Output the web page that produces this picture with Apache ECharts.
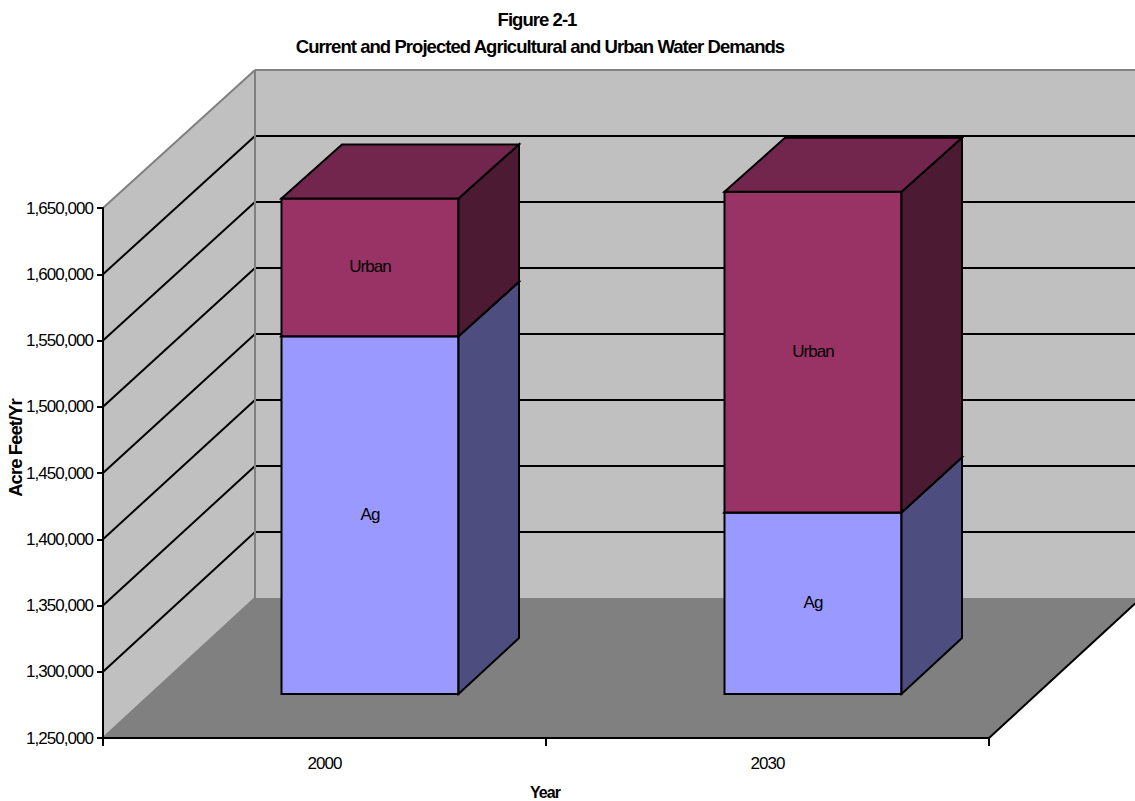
<!DOCTYPE html>
<html>
<head>
<meta charset="utf-8">
<style>
html,body{margin:0;padding:0;background:#fff}
#chart{width:1135px;height:801px}
#chart text{letter-spacing:-0.95px}
</style>
<script src="https://cdn.jsdelivr.net/npm/echarts@6/dist/echarts.min.js"></script>
</head>
<body>
<div id="chart"></div>
<script>
const titleLines = ['Figure 2-1', 'Current and Projected Agricultural and Urban Water Demands'];
const years = ['2000', '2030'];
const agValues = [1520000, 1387000];
const urbanValues = [104000, 242000];
const gridValues = [1300000, 1350000, 1400000, 1450000, 1500000, 1550000, 1600000];
const axisMin = 1250000, axisMax = 1650000, axisStep = 50000;
const FONT = '"Liberation Sans", Arial, sans-serif';

// wall depth and bar placement (styling of the 3D projection)
const wallDx = 152;
const wallDy = y => 138 + 2 * (y - 208) / 530;
const barOff = [45.5, -44], barDepthX = 60.5, barW = 177;
const barDepthY = y => -54 - 2 * (y - 192) / 502;

function line(x1, y1, x2, y2, color, w) {
  return {type: 'line', shape: {x1, y1, x2, y2}, style: {stroke: color, lineWidth: w, fill: null}};
}
function poly(points, fill, stroke) {
  return {type: 'polygon', shape: {points}, style: {fill, stroke: stroke || null, lineWidth: stroke ? 2 : 0, lineJoin: 'miter'}};
}

function renderWalls(params, api) {
  const L = api.coord([0, axisMin])[0] - api.size([1, 0])[0] / 2;
  const R = L + 2 * api.size([1, 0])[0];
  const B = api.coord([0, axisMin])[1], T = api.coord([0, axisMax])[1];
  const bl = [L + wallDx, B - wallDy(B)], tl = [L + wallDx, T - wallDy(T)];
  const kids = [
    poly([[L, T], tl, bl, [L, B]], '#C0C0C0'),
    poly([tl, [R + wallDx, tl[1]], [R + wallDx, bl[1]], bl], '#C0C0C0'),
    poly([[L, B], bl, [R + wallDx, bl[1]], [R, B]], '#808080')
  ];
  gridValues.forEach(v => {
    const y = api.coord([0, v])[1], by = y - wallDy(y);
    kids.push(line(L, y, L + wallDx, by, '#000', 2));
    kids.push(line(L + wallDx, by, R + wallDx, by, '#000', 2));
  });
  kids.push(line(L, T, tl[0], tl[1], '#808080', 2));
  kids.push(line(tl[0], tl[1], R + wallDx, tl[1], '#808080', 2));
  kids.push(line(tl[0], tl[1], bl[0], bl[1], '#808080', 2));
  kids.push(line(L, B, bl[0], bl[1], '#808080', 2));
  kids.push(line(R, B, R + wallDx, bl[1], '#000', 2));
  return {type: 'group', silent: true, children: kids};
}

function barRenderer(name, front, side, top) {
  return function (params, api) {
    const cat = api.value(0);
    const p0 = api.coord([cat, api.value(1)]), p1 = api.coord([cat, api.value(2)]);
    const xl = p0[0] + barOff[0] - barW / 2, xr = xl + barW;
    const yb = p0[1] + barOff[1], yt = p1[1] + barOff[1];
    const dx = barDepthX, dyT = barDepthY(yt), dyB = barDepthY(yb);
    return {type: 'group', children: [
      poly([[xl, yt], [xr, yt], [xr, yb], [xl, yb]], front, '#000'),
      poly([[xr, yt], [xr + dx, yt + dyT], [xr + dx, yb + dyB], [xr, yb]], side, '#000'),
      poly([[xl, yt], [xl + dx, yt + dyT], [xr + dx, yt + dyT], [xr, yt]], top, '#000'),
      {type: 'text', x: (xl + xr) / 2, y: (yt + yb) / 2 - 1,
       style: {text: name, fill: '#000', font: '17px ' + FONT, textAlign: 'center', textVerticalAlign: 'middle'}}
    ]};
  };
}

const titleStyle = {fontFamily: FONT, fontSize: 18.5, fontWeight: 'bold', color: '#000', lineHeight: 27};
const chart = echarts.init(document.getElementById('chart'), null, {renderer: 'svg'});
chart.setOption({
  animation: false,
  backgroundColor: '#fff',
  title: [
    {text: titleLines[0], left: 532, top: 1, textAlign: 'center', textStyle: titleStyle},
    {text: titleLines[1], left: 535, top: 28, textAlign: 'center', textStyle: titleStyle}
  ],
  grid: {left: 103, right: 146, top: 208, bottom: 63, outerBoundsMode: 'none'},
  xAxis: {
    type: 'category', data: years, z: 10,
    name: 'Year', nameLocation: 'middle', nameGap: 46, nameMoveOverlap: false,
    nameTextStyle: {fontFamily: FONT, fontSize: 16, fontWeight: 'bold', color: '#000', padding: [0, 2, 0, 0]},
    axisLine: {lineStyle: {color: '#000', width: 2}},
    axisTick: {show: true, length: 8, lineStyle: {color: '#000', width: 2}},
    axisLabel: {margin: 17, fontFamily: FONT, fontSize: 17, color: '#000'},
    splitLine: {show: false}
  },
  yAxis: {
    type: 'value', min: axisMin, max: axisMax, interval: axisStep, z: 10,
    name: 'Acre Feet/Yr', nameLocation: 'middle', nameGap: 78, nameMoveOverlap: false,
    nameTextStyle: {fontFamily: FONT, fontSize: 18.5, fontWeight: 'bold', color: '#000', padding: [0, 0, 0, 50]},
    axisLine: {show: true, lineStyle: {color: '#000', width: 2}},
    axisTick: {show: true, length: 6, lineStyle: {color: '#000', width: 2}},
    axisLabel: {margin: 10, fontFamily: FONT, fontSize: 17, color: '#000',
      formatter: v => v.toLocaleString('en-US')},
    splitLine: {show: false}
  },
  series: [
    {type: 'custom', name: 'walls', z: 1, silent: true, renderItem: renderWalls,
     data: [[0, axisMin]], encode: {x: 0, y: 1}},
    {type: 'custom', name: 'Ag', z: 2, renderItem: barRenderer('Ag', '#9999FF', '#4D4D80', '#73739F'),
     data: years.map((y, i) => [i, axisMin, agValues[i]]), encode: {x: 0, y: [1, 2]}},
    {type: 'custom', name: 'Urban', z: 3, renderItem: barRenderer('Urban', '#993366', '#4D1A33', '#73264D'),
     data: years.map((y, i) => [i, agValues[i], agValues[i] + urbanValues[i]]), encode: {x: 0, y: [1, 2]}}
  ]
});
</script>
</body>
</html>
